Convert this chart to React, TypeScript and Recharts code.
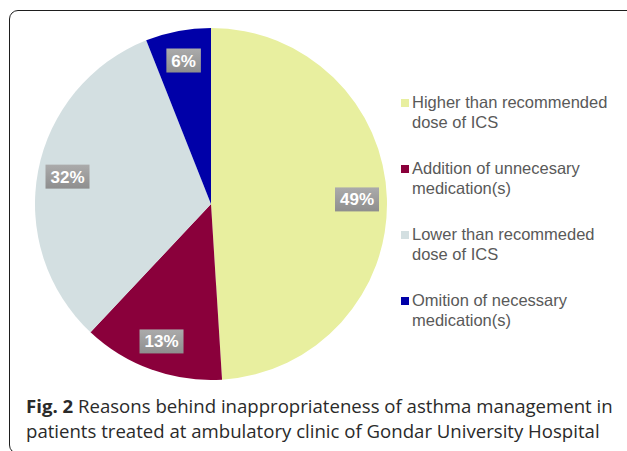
import React from 'react';
import { PieChart, Pie, Cell, Legend } from 'recharts';

// Reasons behind inappropriateness of asthma management (%)
const categories = [
  'Higher than recommended\ndose of ICS',
  'Addition of unnecesary\nmedication(s)',
  'Lower than recommeded\ndose of ICS',
  'Omition of necessary\nmedication(s)',
];
const percentages = [49, 13, 32, 6];
const sliceColors = ['#E8EF9F', '#8A003B', '#D3DFE1', '#0000A8'];

const captionBold = 'Fig. 2';
const captionLine1 = ' Reasons behind inappropriateness of asthma management in';
const captionLine2 = 'patients treated at ambulatory clinic of Gondar University Hospital';

const pieData = categories.map((name, i) => ({ name, value: percentages[i] }));

const RADIAN = Math.PI / 180;

const renderLabel = (props: any) => {
  const { cx, cy, midAngle, outerRadius, index } = props;
  const r = outerRadius * 0.83;
  const x = cx + r * Math.cos(-midAngle * RADIAN);
  const y = cy + r * Math.sin(-midAngle * RADIAN);
  const text = `${percentages[index]}%`;
  const w = (text.length - 1) * 9.5 + 15 + 10;
  const h = 24;
  return (
    <g key={`lbl-${index}`}>
      <rect x={x - w / 2} y={y - h / 2} width={w} height={h} fill="url(#labelGrad)" />
      <text
        x={x}
        y={y + 6}
        textAnchor="middle"
        fill="#ffffff"
        fontFamily="'Liberation Sans', Arial, sans-serif"
        fontWeight="bold"
        fontSize={17}
      >
        {text}
      </text>
    </g>
  );
};

// legend drawn in data order (no sorting)
const renderLegend = () => (
  <div style={{ fontFamily: "'Liberation Sans', Arial, sans-serif", fontSize: 16.5, color: '#595959' }}>
    {categories.map((name, i) => (
      <div key={`leg-${i}`} style={{ position: 'relative', height: 66, lineHeight: '19.5px' }}>
        <div
          style={{
            position: 'absolute',
            left: 0,
            top: 6,
            width: 8,
            height: 8,
            background: sliceColors[i],
          }}
        />
        <div style={{ marginLeft: 11, whiteSpace: 'nowrap' }}>
          {name.split('\n').map((l, j) => (
            <div key={j}>{l}</div>
          ))}
        </div>
      </div>
    ))}
  </div>
);

export default function App() {
  return (
    <div style={{ position: 'absolute', left: 0, top: 0, width: 627, height: 451, overflow: 'hidden', background: '#ffffff' }}>
      <svg width={0} height={0} style={{ position: 'absolute' }}>
        <defs>
          <linearGradient id="labelGrad" x1="0" y1="0" x2="0" y2="1">
            <stop offset="0%" stopColor="#ababab" />
            <stop offset="100%" stopColor="#8e8e8e" />
          </linearGradient>
        </defs>
      </svg>
      <div
        style={{
          position: 'absolute',
          left: 9,
          top: 10,
          width: 640,
          height: 442,
          border: '1.5px solid #1e1e1e',
          borderRadius: 9,
        }}
      />
      <div style={{ position: 'absolute', left: 0, top: 0 }}>
        <PieChart width={627} height={451} margin={{ top: 0, right: 0, bottom: 0, left: 0 }}>
          <Pie
            data={pieData}
            dataKey="value"
            nameKey="name"
            cx={211}
            cy={204}
            outerRadius={176}
            startAngle={90}
            endAngle={-270}
            stroke="none"
            label={renderLabel}
            labelLine={false}
            isAnimationActive={false}
          >
            {pieData.map((d, i) => (
              <Cell key={d.name} fill={sliceColors[i]} />
            ))}
          </Pie>
          <Legend
            layout="vertical"
            align="right"
            verticalAlign="top"
            content={renderLegend}
            wrapperStyle={{ position: 'absolute', left: 401, top: 93, width: 225 }}
          />
        </PieChart>
      </div>
      <div
        style={{
          position: 'absolute',
          left: 26,
          top: 393,
          fontFamily: "'Open Sans', sans-serif",
          fontSize: 18.6,
          lineHeight: '25px',
          color: '#2a2a2a',
          whiteSpace: 'nowrap',
        }}
      >
        <div>
          <span style={{ fontWeight: 700 }}>{captionBold}</span>
          {captionLine1}
        </div>
        <div>{captionLine2}</div>
      </div>
    </div>
  );
}
